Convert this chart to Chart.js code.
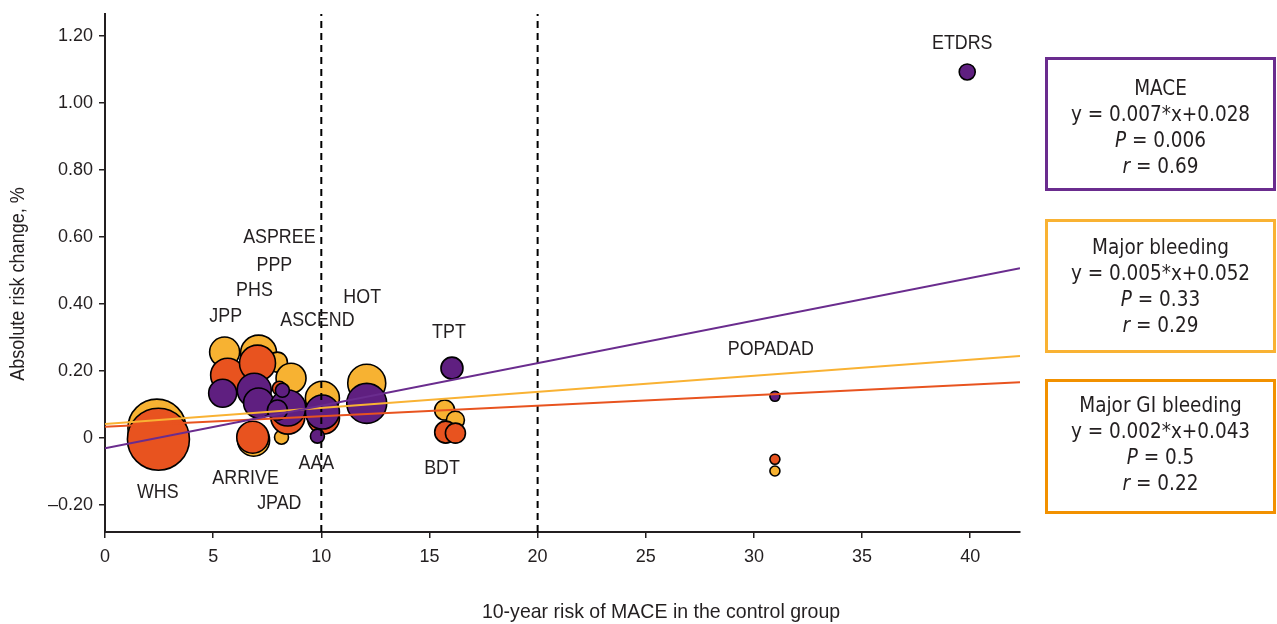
<!DOCTYPE html>
<html>
<head>
<meta charset="utf-8">
<script src="https://cdn.jsdelivr.net/npm/chart.js@4.4.0/dist/chart.umd.min.js"></script>
<style>
  body { margin: 0; background: #fff; }
  #wrap { position: relative; width: 1277px; height: 624px; overflow: hidden;
          font-family: 'DejaVu Sans Condensed', sans-serif; color: #231f20; }
  canvas { position: absolute; left: 0; top: 0; }
  .box { position: absolute; left: 1045px; width: 231px; border: 3px solid; box-sizing: border-box;
         text-align: center; font-size: 20.5px; line-height: 26px; }
  .box i { font-style: italic; }
</style>
</head>
<body>
<div id="wrap">
  <canvas id="chart" width="1277" height="624"></canvas>
  <div class="box" style="top:57px;height:134px;border-color:#6a2c8e;padding-top:15px">
    MACE<br>y = 0.007*x+0.028<br><i>P</i> = 0.006<br><i>r</i> = 0.69
  </div>
  <div class="box" style="top:219px;height:134px;border-color:#f9b233;padding-top:12px">
    Major bleeding<br>y = 0.005*x+0.052<br><i>P</i> = 0.33<br><i>r</i> = 0.29
  </div>
  <div class="box" style="top:379px;height:135px;border-color:#f29100;padding-top:10px">
    Major GI bleeding<br>y = 0.002*x+0.043<br><i>P</i> = 0.5<br><i>r</i> = 0.22
  </div>
</div>
<script>
const FONT = "'Liberation Sans', Arial, sans-serif";
const INK = "#231f20";

// axis ticks
const xTicks = [0, 5, 10, 15, 20, 25, 30, 35, 40];
const yTicks = [-0.2, 0, 0.2, 0.4, 0.6, 0.8, 1.0, 1.2];
const xMin = 0, xMax = 42.3, yMin = -0.28, yMax = 1.266;

// MACE (purple)
const maceX = [5.44, 6.9, 7.1, 8.45, 7.97, 8.2, 10.05, 9.82, 12.1, 16.04, 30.97, 39.86];
const maceY = [0.134, 0.143, 0.105, 0.09, 0.084, 0.143, 0.078, 0.006, 0.104, 0.209, 0.125, 1.093];
const maceR = [14, 17, 15, 18, 10, 7, 17, 7, 20, 11, 5, 8];

// Major bleeding (yellow)
const bleedX = [2.4, 5.53, 7.1, 7.97, 8.6, 6.87, 8.16, 10.05, 12.1, 15.7, 16.2, 30.97];
const bleedY = [0.03, 0.257, 0.254, 0.227, 0.179, -0.006, 0.003, 0.119, 0.164, 0.084, 0.054, -0.098];
const bleedR = [29, 15, 18, 10, 15, 16, 7, 17, 19, 10, 9, 5];

// Major GI bleeding (orange)
const giX = [2.47, 5.67, 7.05, 8.06, 8.45, 8.2, 6.83, 10.1, 15.75, 16.2, 30.97];
const giY = [-0.003, 0.188, 0.224, 0.149, 0.063, 0.069, 0.003, 0.06, 0.018, 0.015, -0.063];
const giR = [31, 17, 18, 7, 17, 6, 16, 16, 11, 10, 5];

// regression lines (as drawn)
const regX = [0, 42.3];
const maceLine = [-0.03, 0.507];
const bleedLine = [0.042, 0.245];
const giLine = [0.034, 0.167];

// thresholds
const cutoffs = [10, 20];

// study labels
const studies = ["ETDRS", "ASPREE", "PPP", "PHS", "JPP", "ASCEND", "HOT", "TPT", "POPADAD",
                 "WHS", "ARRIVE", "JPAD", "AAA", "BDT"];
const studyX = [39.63, 8.06, 7.83, 6.91, 5.58, 9.82, 11.89, 15.9, 30.78, 2.44, 6.5, 8.06, 9.77, 15.58];
const studyY = [1.179, 0.6, 0.516, 0.442, 0.364, 0.352, 0.421, 0.316, 0.266, -0.161, -0.119, -0.194, -0.075, -0.09];

const bubbles = (xs, ys, rs) => xs.map((x, i) => ({ x: x, y: ys[i], r: rs[i] }));
const line = (ys) => regX.map((x, i) => ({ x: x, y: ys[i] }));

const datasets = [
  { label: "Major bleeding", data: bubbles(bleedX, bleedY, bleedR), backgroundColor: "#f7b232",
    borderColor: "#000", borderWidth: 1.6, order: 5 },
  { label: "Major GI bleeding", data: bubbles(giX, giY, giR), backgroundColor: "#e8531f",
    borderColor: "#000", borderWidth: 1.6, order: 4 },
  { label: "MACE", data: bubbles(maceX, maceY, maceR), backgroundColor: "#5f1f80",
    borderColor: "#000", borderWidth: 1.6, order: 3 },
  { type: "line", label: "MACE fit", data: line(maceLine), borderColor: "#6a2c8e", borderWidth: 2,
    pointRadius: 0, order: 1 },
  { type: "line", label: "Bleeding fit", data: line(bleedLine), borderColor: "#f9b233", borderWidth: 2,
    pointRadius: 0, order: 1 },
  { type: "line", label: "GI fit", data: line(giLine), borderColor: "#e8531f", borderWidth: 2,
    pointRadius: 0, order: 1 }
];
cutoffs.forEach(c => {
  datasets.push({ type: "line", label: "cut " + c, data: [{ x: c, y: yMin }, { x: c, y: yMax }],
    borderColor: "#000", borderWidth: 2, borderDash: [7, 5], pointRadius: 0, order: 2 });
});

// narrow text: regular face squeezed horizontally
function narrowText(ctx, text, x, y, size, sx, rot) {
  ctx.save();
  ctx.translate(x, y);
  if (rot) ctx.rotate(rot);
  ctx.scale(sx, 1);
  ctx.font = size + "px " + FONT;
  ctx.fillText(text, 0, 0);
  ctx.restore();
}

// study names + axis titles
const annotations = {
  id: "annotations",
  afterDatasetsDraw(chart) {
    const { ctx, scales: { x, y } } = chart;
    ctx.save();
    ctx.fillStyle = INK;
    ctx.textAlign = "center";
    ctx.textBaseline = "middle";
    studies.forEach((s, i) => {
      narrowText(ctx, s, x.getPixelForValue(studyX[i]), y.getPixelForValue(studyY[i]), 21, 0.85);
    });
    narrowText(ctx, "10-year risk of MACE in the control group", 661, 612, 21, 0.93);
    narrowText(ctx, "Absolute risk change, %", 18, 284, 21, 0.86, -Math.PI / 2);
    ctx.restore();
  }
};

const fmtY = v => {
  const r = Math.round(v * 100) / 100;
  if (r === 0) return "0";
  return r < 0 ? "\u2013" + Math.abs(r).toFixed(2) : r.toFixed(2);
};

new Chart(document.getElementById("chart"), {
  type: "bubble",
  data: { datasets: datasets },
  options: {
    responsive: false,
    animation: false,
    layout: { autoPadding: false, padding: { top: 14, right: 257, left: 0, bottom: 0 } },
    plugins: { legend: { display: false }, tooltip: { enabled: false } },
    scales: {
      x: {
        type: "linear", min: xMin, max: xMax,
        afterBuildTicks: s => { s.ticks = xTicks.map(v => ({ value: v })); },
        afterFit: s => { s.height = 92; s.paddingLeft = 0; s.paddingRight = 0; },
        ticks: { font: { family: FONT, size: 18 }, color: INK, padding: 8, maxRotation: 0 },
        grid: { drawOnChartArea: false, tickLength: 6, color: INK, lineWidth: 1.5 },
        border: { color: INK, width: 2 }
      },
      y: {
        type: "linear", min: yMin, max: yMax,
        afterBuildTicks: s => { s.ticks = yTicks.map(v => ({ value: v })); },
        afterFit: s => { s.width = 105; s.paddingTop = 0; s.paddingBottom = 0; },
        ticks: { font: { family: FONT, size: 18 }, color: INK, padding: 6, callback: fmtY },
        grid: { drawOnChartArea: false, tickLength: 6, color: INK, lineWidth: 1.5 },
        border: { color: INK, width: 2 }
      }
    }
  },
  plugins: [annotations]
});
</script>
</body>
</html>
